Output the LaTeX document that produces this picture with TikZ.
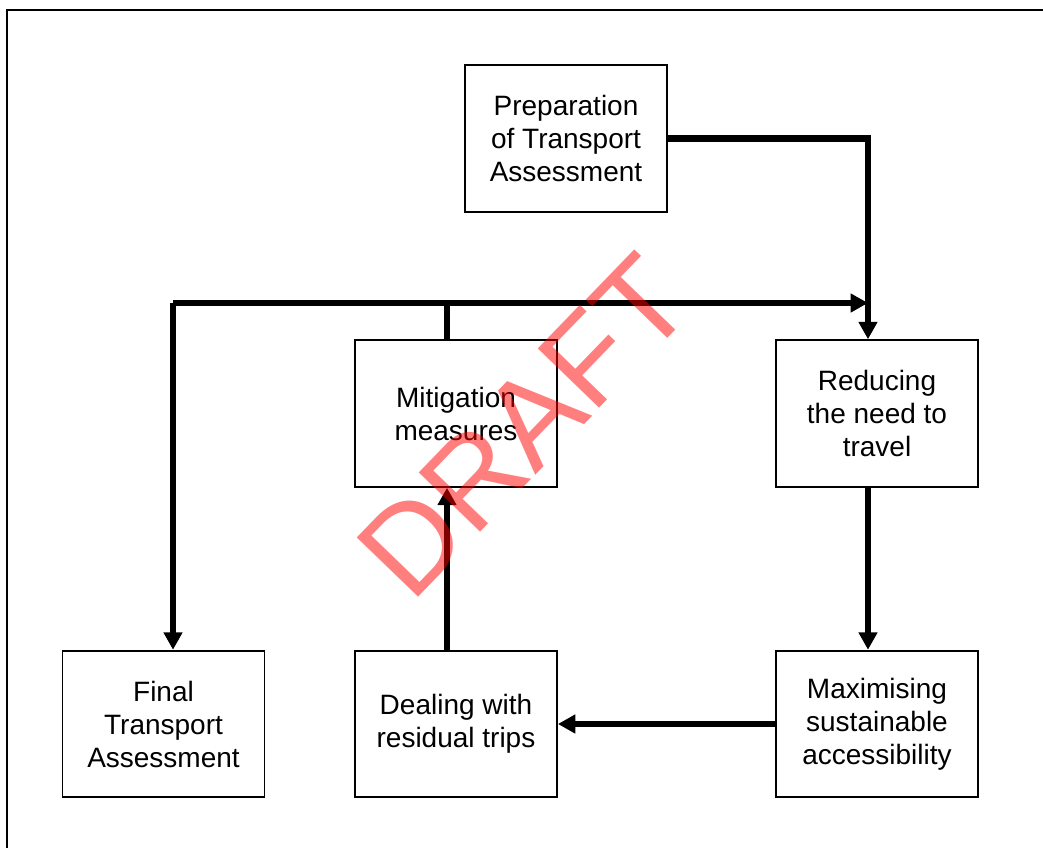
\documentclass[tikz,border=0pt]{standalone}
\usepackage{fontspec}
\setmainfont{Liberation Sans}
\usetikzlibrary{arrows.meta}
\tikzset{
    stagebox/.style={draw, line width=1.4pt, minimum width=151.5pt, minimum height=110pt,
        align=center, font=\fontsize{21}{24.75}\selectfont, inner sep=0pt},
    flow/.style={line width=4.6pt, -{Triangle[length=13pt,width=13.5pt]}},
    link/.style={line width=4.6pt}
}
\begin{document}
\begin{tikzpicture}[x=0.75pt,y=-0.75pt]
    \useasboundingbox (0,0) rectangle (1043,847);
    \draw[line width=1.6pt] (7,1100) -- (7,10) -- (1100,10);
    % boxes
    \foreach \x/\y/\n/\l in {566/138.5/prep/{Preparation\\of Transport\\Assessment},
        456/413.5/mitig/{Mitigation\\measures},
        877/413.5/reduce/{Reducing\\the need to\\travel},
        163.5/724/final/{Final\\Transport\\Assessment},
        456/724/deal/{Dealing with\\residual trips},
        877/724/maxim/{Maximising\\sustainable\\accessibility}}{
        \node[stagebox] (\n) at (\x,\y) {\l};
    }
    \coordinate (corner) at (868,138.5);
    \coordinate (join) at (868,303);
    \coordinate (left) at (173,303);
    \coordinate (mtop) at (447,303);
    % arrows
    \draw[flow] (prep.east) -- (corner) -- (corner |- reduce.north);
    \draw[flow] (left) -- (join);
    \draw[flow] (left) -- (left |- final.north);
    \draw[link] (mtop) -- (mtop |- mitig.north);
    \draw[flow] (join |- reduce.south) -- (join |- maxim.north);
    \draw[flow] (maxim.west) -- (deal.east);
    \draw[flow] (mtop |- deal.north) -- (mtop |- mitig.south);
    % watermark
    \node[text=red, opacity=0.5, rotate=46, font=\fontsize{93}{93}\selectfont, inner sep=0pt]
        (draft) at (524,426) {DRAFT};
\end{tikzpicture}
\end{document}
